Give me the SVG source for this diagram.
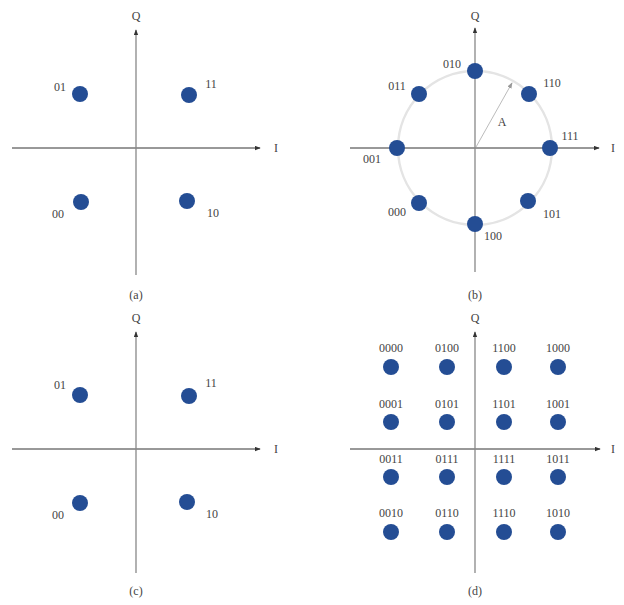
<svg xmlns="http://www.w3.org/2000/svg" width="624" height="605" viewBox="0 0 624 605">
<defs>
<marker id="ah" viewBox="0 0 8 6" refX="7" refY="3" markerWidth="6" markerHeight="5" orient="auto" markerUnits="userSpaceOnUse"><path d="M0,0 L8,3 L0,6 z" fill="#333"/></marker>
<marker id="ahg" viewBox="0 0 8 6" refX="7" refY="3" markerWidth="6" markerHeight="5" orient="auto" markerUnits="userSpaceOnUse"><path d="M0,0 L8,3 L0,6 z" fill="#999"/></marker>
</defs>
<style>
text{font-family:"Liberation Serif",serif;font-size:12px;fill:#444;text-anchor:middle}
.ax{stroke:#333;stroke-width:1;fill:none}
.vax{stroke:#888;stroke-width:1.3;fill:none}
.pt{fill:#244d94}
.circ{stroke:#e4e4e4;stroke-width:2.5;fill:none}
.rad{stroke:#aaa;stroke-width:0.8;fill:none}
</style>
<rect width="624" height="605" fill="#fff"/>
<g id="connectors">
<line class="ax" x1="12" y1="148" x2="260" y2="148" marker-end="url(#ah)"/>
<line class="vax" x1="136" y1="275" x2="136" y2="30" marker-end="url(#ah)"/>
<line class="ax" x1="350" y1="148" x2="599" y2="148" marker-end="url(#ah)"/>
<line class="vax" x1="475" y1="272" x2="475" y2="28" marker-end="url(#ah)"/>
<line class="ax" x1="12" y1="449" x2="260" y2="449" marker-end="url(#ah)"/>
<line class="vax" x1="136" y1="573" x2="136" y2="332" marker-end="url(#ah)"/>
<line class="ax" x1="350" y1="449" x2="600" y2="449" marker-end="url(#ah)"/>
<line class="vax" x1="475" y1="573" x2="475" y2="332" marker-end="url(#ah)"/>
<line class="rad" x1="476" y1="147" x2="512" y2="83" marker-end="url(#ahg)"/>
</g>
<g id="axis-labels">
<text x="136" y="20">Q</text><text x="276" y="152">I</text>
<text x="475" y="20">Q</text><text x="613" y="152">I</text>
<text x="136" y="322">Q</text><text x="276" y="453">I</text>
<text x="475" y="322">Q</text><text x="613" y="453">I</text>
<text x="502" y="126">A</text>
</g>
<g id="panel-a">
<circle class="pt" cx="80" cy="94" r="8"/><text x="60" y="91">01</text>
<circle class="pt" cx="189" cy="95" r="8"/><text x="211" y="88">11</text>
<circle class="pt" cx="81" cy="202" r="8"/><text x="58" y="218">00</text>
<circle class="pt" cx="187" cy="201" r="8"/><text x="213" y="217">10</text>
<text x="136" y="299">(a)</text>
</g>
<g id="panel-b">
<circle class="circ" cx="475" cy="148" r="77"/>
<circle class="pt" cx="475" cy="71" r="8"/><text x="452" y="68">010</text>
<circle class="pt" cx="529" cy="94" r="8"/><text x="552" y="87">110</text>
<circle class="pt" cx="419" cy="94" r="8"/><text x="397" y="90">011</text>
<circle class="pt" cx="550" cy="148" r="8"/><text x="570" y="140">111</text>
<circle class="pt" cx="397" cy="148" r="8"/><text x="372" y="163">001</text>
<circle class="pt" cx="419" cy="203" r="8"/><text x="397" y="216">000</text>
<circle class="pt" cx="528" cy="201" r="8"/><text x="552" y="218">101</text>
<circle class="pt" cx="475" cy="224" r="8"/><text x="493" y="240">100</text>
<text x="475" y="299">(b)</text>
</g>
<g id="panel-c">
<circle class="pt" cx="80" cy="395" r="8"/><text x="60" y="389">01</text>
<circle class="pt" cx="189" cy="396" r="8"/><text x="211" y="387">11</text>
<circle class="pt" cx="80" cy="503" r="8"/><text x="58" y="519">00</text>
<circle class="pt" cx="187" cy="502" r="8"/><text x="212" y="518">10</text>
<text x="136" y="595">(c)</text>
</g>
<g id="panel-d">
<circle class="pt" cx="391" cy="367" r="8"/><text x="391" y="352">0000</text>
<circle class="pt" cx="447" cy="367" r="8"/><text x="447" y="352">0100</text>
<circle class="pt" cx="504" cy="367" r="8"/><text x="504" y="352">1100</text>
<circle class="pt" cx="558" cy="367" r="8"/><text x="558" y="352">1000</text>
<circle class="pt" cx="391" cy="422" r="8"/><text x="391" y="408">0001</text>
<circle class="pt" cx="447" cy="422" r="8"/><text x="447" y="408">0101</text>
<circle class="pt" cx="504" cy="422" r="8"/><text x="504" y="408">1101</text>
<circle class="pt" cx="558" cy="422" r="8"/><text x="558" y="408">1001</text>
<circle class="pt" cx="391" cy="477" r="8"/><text x="391" y="463">0011</text>
<circle class="pt" cx="447" cy="477" r="8"/><text x="447" y="463">0111</text>
<circle class="pt" cx="504" cy="477" r="8"/><text x="504" y="463">1111</text>
<circle class="pt" cx="558" cy="477" r="8"/><text x="558" y="463">1011</text>
<circle class="pt" cx="391" cy="532" r="8"/><text x="391" y="517">0010</text>
<circle class="pt" cx="447" cy="532" r="8"/><text x="447" y="517">0110</text>
<circle class="pt" cx="504" cy="532" r="8"/><text x="504" y="517">1110</text>
<circle class="pt" cx="558" cy="532" r="8"/><text x="558" y="517">1010</text>
<text x="475" y="595">(d)</text>
</g>
</svg>
